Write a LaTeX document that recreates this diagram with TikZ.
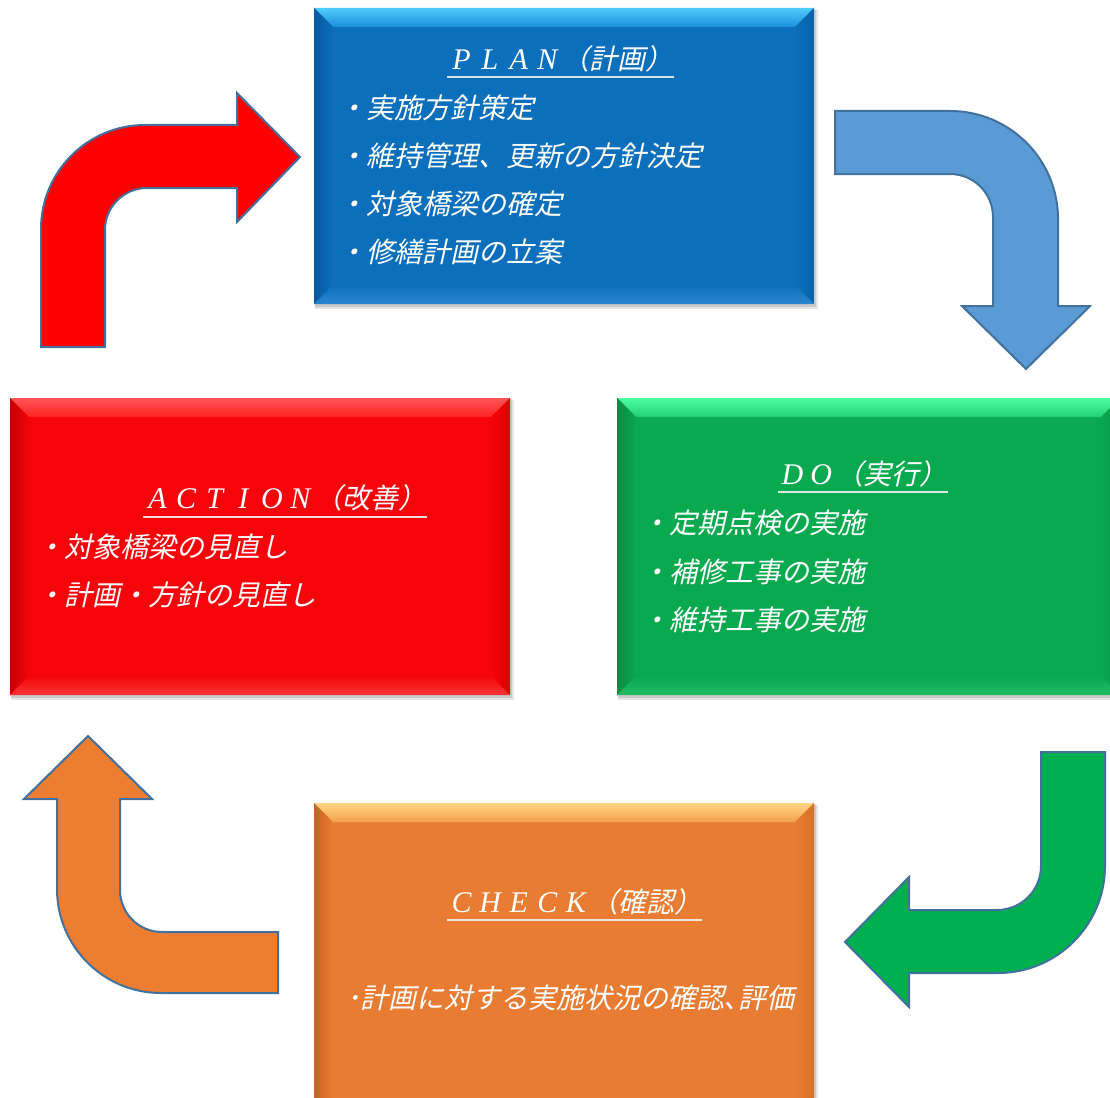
\documentclass[tikz,border=0pt]{standalone}
\usepackage{fontspec}
\setmainfont{Liberation Serif}
\newfontfamily\jp[FakeSlant=0.22]{Noto Sans CJK JP}
\usetikzlibrary{calc}

\definecolor{planBase}{HTML}{0C6FBC}
\definecolor{planTop}{HTML}{4FCBFA}
\definecolor{planTopIn}{HTML}{1C8FDA}
\definecolor{planLeft}{HTML}{07599E}
\definecolor{planRight}{HTML}{0962AA}
\definecolor{planBot}{HTML}{2A86CC}

\definecolor{actBase}{HTML}{F5050A}
\definecolor{actTop}{HTML}{FF5555}
\definecolor{actTopIn}{HTML}{FF2222}
\definecolor{actLeft}{HTML}{C40000}
\definecolor{actRight}{HTML}{DD0000}
\definecolor{actBot}{HTML}{F83535}

\definecolor{doBase}{HTML}{09A94F}
\definecolor{doTop}{HTML}{4DFF9F}
\definecolor{doTopIn}{HTML}{22CF72}
\definecolor{doLeft}{HTML}{078C40}
\definecolor{doRight}{HTML}{08984A}
\definecolor{doBot}{HTML}{22BB62}

\definecolor{chkBase}{HTML}{E87C33}
\definecolor{chkTop}{HTML}{FFD680}
\definecolor{chkTopIn}{HTML}{F4A050}
\definecolor{chkLeft}{HTML}{C66322}
\definecolor{chkRight}{HTML}{D87028}
\definecolor{chkBot}{HTML}{EE9050}

\definecolor{arRed}{HTML}{FF0000}
\definecolor{arBlue}{HTML}{5B9BD5}
\definecolor{arGreen}{HTML}{00B050}
\definecolor{arOrange}{HTML}{ED7D31}
\definecolor{arrowEdge}{HTML}{41719C}

\tikzset{
  ttl/.style={inner sep=0pt, anchor=base west, text=white},
  itm/.style={inner sep=0pt, anchor=west, text=white, font=\jp\fontsize{28}{30}\selectfont},
  uline/.style={draw=white!88!gray, line width=1.6pt, opacity=0.9},
  arrowshape/.style={draw=arrowEdge, line width=2pt, line join=miter}
}
\newcommand\fwc[1]{\makebox[28.6pt][c]{\fontsize{30}{32}\selectfont\itshape #1}}
\newcommand\jtt[1]{{\jp\fontsize{28}{30}\selectfont #1}}

\newcommand\bevbox[5]{%
  \fill[black,opacity=0.10] (#1+1,#2+2) rectangle (#3+4,#4+5);
  \fill[black,opacity=0.12] (#1+1,#2+1) rectangle (#3+2,#4+3);
  \fill[#5Base] (#1,#2) rectangle (#3,#4);
  \shade[top color=#5Top,bottom color=#5TopIn] (#1,#2) -- (#3,#2) -- (#3-19,#2+19) -- (#1+19,#2+19) -- cycle;
  \shade[left color=#5Left,right color=#5Base] (#1,#2) -- (#1+19,#2+19) -- (#1+19,#4-19) -- (#1,#4) -- cycle;
  \shade[left color=#5Base,right color=#5Right] (#3,#2) -- (#3-19,#2+19) -- (#3-19,#4-19) -- (#3,#4) -- cycle;
  \shade[top color=#5Base,bottom color=#5Bot] (#1,#4) -- (#1+19,#4-19) -- (#3-19,#4-19) -- (#3,#4) -- cycle;
}

\begin{document}
\begin{tikzpicture}[x=1pt,y=-1pt]
\useasboundingbox (0,0) rectangle (1110,1097);
\clip (0,0) rectangle (1110,1097);
\fill[white] (0,0) rectangle (1110,1097);

% boxes
\bevbox{314}{8}{814}{304}{plan}
\bevbox{10}{398}{510}{695}{act}
\bevbox{617}{398}{1120}{695}{do}
\bevbox{314}{803}{814}{1115}{chk}

% arrows
\filldraw[arrowshape, fill=arRed]
  (41,347) -- (41,229) arc[start angle=180, end angle=270, radius=104]
  -- (237,125) -- (237,93) -- (300,157) -- (237,222) -- (237,188) -- (147,188)
  arc[start angle=270, end angle=180, radius=42] -- (105,347) -- cycle;

\filldraw[arrowshape, fill=arBlue]
  (835,111) -- (950,111) arc[start angle=270, end angle=360, radius=108]
  -- (1058,306) -- (1090,306) -- (1026,369) -- (962,306) -- (993,306) -- (993,217)
  arc[start angle=0, end angle=-90, radius=43] -- (835,174) -- cycle;

\filldraw[arrowshape, fill=arGreen]
  (1041,752) -- (1105,752) -- (1105,866) arc[start angle=0, end angle=90, radius=107]
  -- (909,973) -- (909,1007) -- (845,942) -- (909,877) -- (909,910) -- (997,910)
  arc[start angle=90, end angle=0, radius=44] -- cycle;

\filldraw[arrowshape, fill=arOrange]
  (88,736) -- (152,799) -- (120,799) -- (120,890)
  arc[start angle=180, end angle=90, radius=42] -- (278,932) -- (278,993) -- (161,993)
  arc[start angle=90, end angle=180, radius=104] -- (57,799) -- (24,799) -- cycle;

% PLAN
\node[ttl] (plant) at (447,70) {\fwc{P}\fwc{L}\fwc{A}\fwc{N}\jtt{（計画）}};
\draw[uline] ($(plant.base west)+(0,7)$) -- ($(plant.base east)+(0,7)$);
\node[itm] (p1) at (338,108) {・実施方針策定};
\node[itm] (p2) at (338,156) {・維持管理、更新の方針決定};
\node[itm] (p3) at (338,204) {・対象橋梁の確定};
\node[itm] (p4) at (338,252) {・修繕計画の立案};

% ACTION
\node[ttl] (actt) at (143,508) {\fwc{A}\fwc{C}\fwc{T}\fwc{I}\fwc{O}\fwc{N}\jtt{（改善）}};
\draw[uline] ($(actt.base west)+(0,9)$) -- ($(actt.base east)+(0,9)$);
\node[itm] (a1) at (36,547) {・対象橋梁の見直し};
\node[itm] (a2) at (36,595) {・計画・方針の見直し};

% DO
\node[ttl] (dot) at (778,484) {\fwc{D}\fwc{O}\jtt{（実行）}};
\draw[uline] ($(dot.base west)+(0,8)$) -- ($(dot.base east)+(0,8)$);
\node[itm] (d1) at (641,523) {・定期点検の実施};
\node[itm] (d2) at (641,572) {・補修工事の実施};
\node[itm] (d3) at (641,620) {・維持工事の実施};

% CHECK
\node[ttl] (chkt) at (447,912) {\fwc{C}\fwc{H}\fwc{E}\fwc{C}\fwc{K}\jtt{（確認）}};
\draw[uline] ($(chkt.base west)+(0,8)$) -- ($(chkt.base east)+(0,8)$);
\node[itm] (c1) at (346,998) {･計画に対する実施状況の確認､評価};
\end{tikzpicture}
\end{document}
